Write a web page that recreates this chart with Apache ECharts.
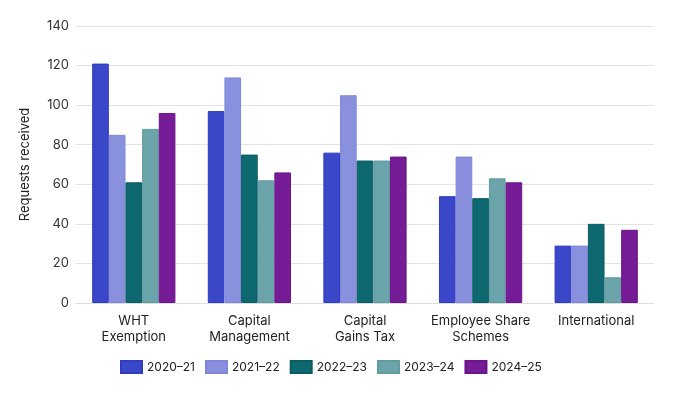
<!DOCTYPE html>
<html><head><meta charset="utf-8">
<script src="https://cdn.jsdelivr.net/npm/echarts@6/dist/echarts.min.js"></script>
<style>html,body{margin:0;padding:0;background:#fff}#c{width:680px;height:393px}</style>
</head><body><div id="c"></div>
<script>
const categories = ['WHT\nExemption','Capital\nManagement','Capital\nGains Tax','Employee Share\nSchemes','International'];
const seriesNames = ['2020–21','2021–22','2022–23','2023–24','2024–25'];
const v2020 = [121, 97, 76, 54, 29];
const v2021 = [85, 114, 105, 74, 29];
const v2022 = [61, 75, 72, 53, 40];
const v2023 = [88, 62, 72, 63, 13];
const v2024 = [96, 66, 74, 61, 37];
const colors = ['#3a47c9','#8990de','#0e6870','#6ca4ab','#761c96'];
const borders = ['#2f3cc0','#7d86d9','#0a5c63','#5f9aa1','#6a158a'];
const values = [v2020, v2021, v2022, v2023, v2024];
const font = 'Inter, "Noto Sans", sans-serif';
const chart = echarts.init(document.getElementById('c'));
chart.setOption({
  animation: false,
  textStyle: {fontFamily: font},
  grid: {left: 76, right: 26, top: 26, bottom: 90},
  legend: {
    bottom: 14, left: 115, itemWidth: 21, itemHeight: 12, itemGap: 10, icon: 'rect',
    textStyle: {fontFamily: font, fontSize: 12, color: '#222'},
    data: seriesNames
  },
  xAxis: {
    type: 'category', data: categories,
    axisLine: {lineStyle: {color: '#dddddd'}},
    axisTick: {alignWithLabel: true, length: 4, lineStyle: {color: '#cccccc'}},
    axisLabel: {fontFamily: font, fontSize: 13, color: '#222', lineHeight: 16, margin: 10, interval: 0}
  },
  yAxis: {
    type: 'value', min: 0, max: 140, interval: 20,
    name: 'Requests received', nameLocation: 'middle', nameGap: 44,
    nameTextStyle: {fontFamily: font, fontSize: 13, color: '#222'},
    axisLine: {show: false}, axisTick: {show: false},
    axisLabel: {fontFamily: font, fontSize: 13, color: '#333', margin: 7},
    splitLine: {lineStyle: {color: '#e3e3e3', width: 1}}
  },
  series: seriesNames.map((n, i) => ({
    name: n, type: 'bar', data: values[i],
    barGap: '0%', barCategoryGap: '28%',
    itemStyle: {color: colors[i], borderColor: borders[i], borderWidth: 1}
  }))
});
</script></body></html>
